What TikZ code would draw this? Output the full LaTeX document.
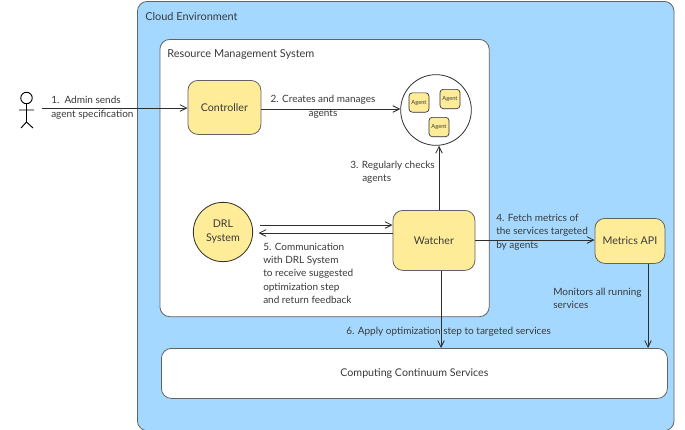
\documentclass[tikz,border=0pt]{standalone}
\usepackage{fontspec}
\setmainfont{Lato}
\usetikzlibrary{arrows.meta}
\definecolor{skyfill}{HTML}{A5D8FF}
\definecolor{boxfill}{HTML}{FFEC99}
\definecolor{ink}{HTML}{3A3A3A}
\definecolor{edge}{HTML}{2E2E2E}
\tikzset{
  x=0.75pt,y=-0.75pt,
  panel/.style={draw=edge!75,line width=0.6pt,rounded corners=7.5pt,inner sep=0pt,anchor=north west},
  yellowbox/.style={panel,fill=boxfill,text=ink,font=\fontsize{8}{10}\selectfont,align=center},
  agentbox/.style={draw=edge,line width=0.5pt,fill=boxfill,rounded corners=2.5pt,minimum width=15pt,minimum height=14.5pt,inner sep=0pt,text=ink,font=\fontsize{4.3}{5}\selectfont},
  lab/.style={text=ink,font=\fontsize{7.5}{10}\selectfont,inner sep=0pt,align=left,anchor=west},
  title/.style={lab,font=\fontsize{8.2}{10}\selectfont},
  conn/.style={draw=edge,line width=0.6pt,-{Straight Barb[length=5pt,width=5pt]}},
  person/.style={draw=black,line width=0.7pt}
}
\begin{document}
\begin{tikzpicture}
\useasboundingbox (0,0) rectangle (685,429);
\fill[white] (0,0) rectangle (685,429);
\begin{scope}
\clip (0,0) rectangle (685,429);
\node[panel,fill=skyfill,minimum width=402.5pt,minimum height=322pt] (cloud) at (137,1) {};
\end{scope}
\node[panel,fill=white,minimum width=247pt,minimum height=208pt] (rms) at (159.5,39) {};
\node[panel,fill=white,minimum width=379.5pt,minimum height=37.5pt,text=ink,font=\fontsize{8}{10}\selectfont] (ccs) at (161,348) {Computing Continuum Services};
\node[title] (cloudlab) at (145,16.5) {Cloud Environment};
\node[title] (rmslab) at (167,55) {Resource Management System};
% actor
\node[circle,person,minimum size=8.6pt,inner sep=0pt] (head) at (26.5,98) {};
\coordinate (hip) at (26.5,122);
\coordinate (armL) at (19,110);
\coordinate (armR) at (34,110);
\coordinate (legL) at (21,128);
\coordinate (legR) at (33,128);
\draw[person] (head.south) -- (hip) (armL) -- (armR) (legL) -- (hip) -- (legR);
% boxes
\node[yellowbox,minimum width=54.75pt,minimum height=40.5pt] (ctrl) at (187.5,80) {Controller};
\node[circle,draw=edge,line width=0.6pt,fill=white,minimum size=53pt,inner sep=0pt] (agents) at (436,110) {};
\node[agentbox] (a1) at (419,102.5) {Agent};
\node[agentbox] (a2) at (450,99) {Agent};
\node[agentbox] (a3) at (439,127) {Agent};
\node[circle,draw=edge,line width=0.6pt,fill=boxfill,minimum size=44.5pt,inner sep=0pt,text=ink,font=\fontsize{8}{10.5}\selectfont,align=center] (drl) at (223,232) {DRL\\System};
\node[yellowbox,minimum width=61.5pt,minimum height=45pt] (watch) at (392.5,210) {Watcher};
\node[yellowbox,minimum width=52.5pt,minimum height=33.75pt] (metrics) at (594.5,218) {Metrics API};
% connectors
\coordinate (adminstart) at (42,108);
\draw[conn] (adminstart) -- (ctrl.west |- adminstart) ;
\draw[conn] (ctrl.east |- 0,109) -- (agents.west |- 0,109);
\draw[conn] (watch.north -| 439,0) -- (agents.south -| 439,0);
\draw[conn] (drl.east |- 0,225) ++(7,0) coordinate (dt) -- (watch.west |- dt);
\draw[conn] (watch.west |- 0,233) -- ++(-134,0) coordinate (db);
\draw[conn] (watch.east |- 0,240) -- (metrics.west |- 0,240);
\draw[conn] (metrics.south -| 648,0) -- (ccs.north -| 648,0);
\draw[conn] (watch.south -| 441,0) -- (ccs.north -| 441,0);
% labels
\node[lab,anchor=north west] (l1) at (51,96) {1.\ \ Admin sends\\[0.6pt]agent specification};
\node[lab,anchor=north,align=center] (l2) at (323,95) {2. Creates and manages\\[0.6pt]agents};
\node[lab] (l3a) at (350,165.5) {3. Regularly checks};
\node[lab] (l3b) at (362,179.5) {agents};
\node[lab,anchor=north west] (l5) at (263,242.5) {5. Communication\\with DRL System\\to receive suggested\\optimization step\\and return feedback};
\node[lab,anchor=north west] (l4) at (496,214) {4. Fetch metrics of\\the services targeted\\by agents};
\node[lab,anchor=north west] (lm) at (553,288) {Monitors all running\\services};
\node[lab] (l6) at (346,331.5) {6. Apply optimization step to targeted services};
\end{tikzpicture}
\end{document}
